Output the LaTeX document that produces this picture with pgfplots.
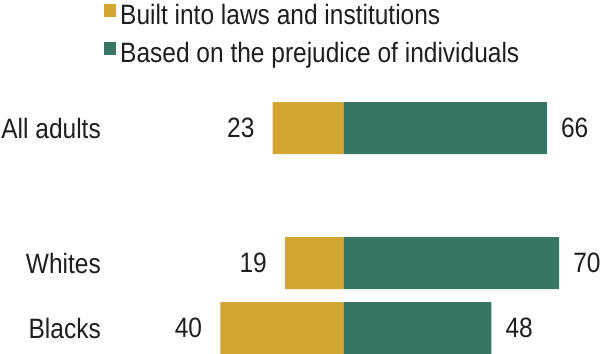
\documentclass[border=0pt]{standalone}
\usepackage{fontspec}
\setmainfont{Liberation Sans}[FakeStretch=0.875]
\usepackage{pgfplots}
\pgfplotsset{compat=1.18}
\definecolor{gold}{HTML}{D2A630}
\definecolor{pewgreen}{HTML}{387565}
\definecolor{txt}{HTML}{1E1E1E}
\newcommand{\bigf}{\fontsize{28}{34}\selectfont}
\begin{document}
\begin{tikzpicture}
\begin{axis}[
  width=601pt, height=353pt, scale only axis,
  xmin=-111.53, xmax=83.60, ymin=0, ymax=353, y dir=reverse,
  axis line style={draw=none}, major tick length=0pt,
  xtick=\empty,
  ytick={128,263,328}, yticklabels={All adults,Whites,Blacks},
  yticklabel style={anchor=east, inner sep=0pt, xshift=101pt, font=\bigf, text=txt},
  xbar, bar width=52pt, bar shift=0pt,
  point meta=explicit,
  /pgf/number format/assume math mode=true,
  nodes near coords={\pgfmathprintnumber{\pgfplotspointmeta}},
  every node near coord/.append style={font=\bigf, text=txt, inner sep=0pt},
  legend image code/.code={\fill[#1] (0pt,0.5pt) rectangle (12pt,13.5pt);},
  legend style={at={(axis cs:-77.76,4)}, anchor=north west, draw=none, fill=none,
    inner sep=0pt, row sep=11.5pt, column sep=4pt, font=\bigf, text=txt,
    nodes={inner sep=0pt, text height=20pt, text depth=6pt}},
  legend cell align=left,
]
\addplot[fill=gold, draw=none, every node near coord/.append style={anchor=east, xshift=-18pt}]
  coordinates {(-23,128) [23] (-19,263) [19] (-40,328) [40]};
\addplot[fill=pewgreen, draw=none, every node near coord/.append style={anchor=west, xshift=14pt}]
  coordinates {(66,128) [66] (70,263) [70] (48,328) [48]};
\legend{Built into laws and institutions, Based on the prejudice of individuals}
\end{axis}
\pgfresetboundingbox
\path[use as bounding box] (current axis.south west) rectangle (current axis.north east);
\end{tikzpicture}
\end{document}
